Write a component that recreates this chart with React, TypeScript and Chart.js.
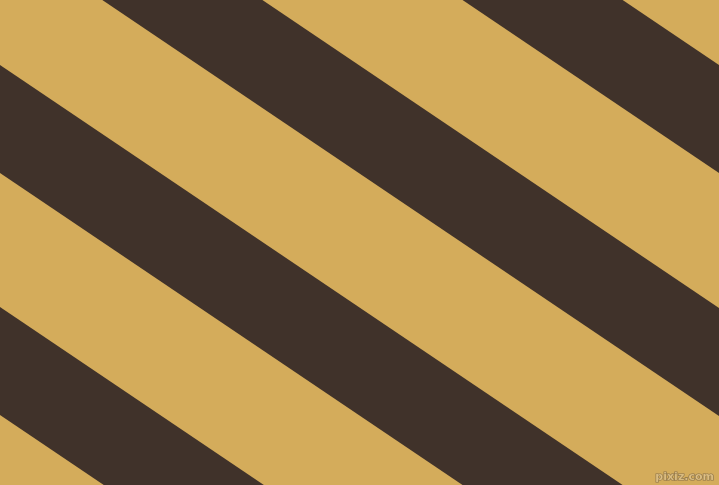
import React, { useEffect, useRef } from "react";
import { Chart, registerables } from "chart.js";

Chart.register(...registerables);

// Stripe edges (y in pixels from the top, at x = 0 and x = 719)
const edgeX = [0, 719];
const stripeNames = ["A", "B", "C", "D"];
const upperEdgeLeft = [-420, -177, 65, 307];
const upperEdgeRight = [65, 308, 550, 792];
const lowerEdgeLeft = [-312, -69, 173, 415];
const lowerEdgeRight = [173, 416, 658, 900];

const GOLD = "#D4AC5B";
const DARK = "#40322A";
const WATERMARK = "pixiz.com";

const backgroundPlugin = {
  id: "stripeBackground",
  beforeDraw(chart: any) {
    const { ctx, width, height } = chart;
    ctx.save();
    ctx.fillStyle = GOLD;
    ctx.fillRect(0, 0, width, height);
    ctx.restore();
  },
  afterDraw(chart: any) {
    const { ctx, width, height } = chart;
    ctx.save();
    ctx.font = "bold 11px 'DejaVu Sans', sans-serif";
    ctx.textAlign = "right";
    ctx.textBaseline = "alphabetic";
    ctx.lineWidth = 1.2;
    ctx.strokeStyle = "rgba(120, 100, 70, 0.8)";
    ctx.fillStyle = "rgba(230, 200, 140, 0.8)";
    ctx.strokeText(WATERMARK, width - 5, height - 5);
    ctx.fillText(WATERMARK, width - 5, height - 5);
    ctx.restore();
  },
};

export default function App() {
  const ref = useRef<HTMLCanvasElement | null>(null);

  useEffect(() => {
    if (!ref.current) return;
    const datasets: any[] = [];
    stripeNames.forEach((name, i) => {
      datasets.push({
        label: name + " upper",
        data: [
          { x: edgeX[0], y: upperEdgeLeft[i] },
          { x: edgeX[1], y: upperEdgeRight[i] },
        ],
        borderWidth: 0,
        borderColor: DARK,
        pointRadius: 0,
        fill: false,
      });
      datasets.push({
        label: name + " lower",
        data: [
          { x: edgeX[0], y: lowerEdgeLeft[i] },
          { x: edgeX[1], y: lowerEdgeRight[i] },
        ],
        borderWidth: 0,
        borderColor: DARK,
        backgroundColor: DARK,
        pointRadius: 0,
        fill: "-1",
      });
    });

    const chart = new Chart(ref.current, {
      type: "line",
      data: { datasets },
      options: {
        animation: false,
        responsive: false,
        maintainAspectRatio: false,
        layout: { padding: 0 },
        plugins: {
          legend: { display: false },
          tooltip: { enabled: false },
          title: { display: false },
        },
        scales: {
          x: { type: "linear", min: 0, max: 719, display: false },
          y: { type: "linear", min: 0, max: 485, reverse: true, display: false },
        },
      },
      plugins: [backgroundPlugin],
    });
    return () => chart.destroy();
  }, []);

  return (
    <div style={{ position: "fixed", left: 0, top: 0, width: 719, height: 485 }}>
      <canvas ref={ref} width={719} height={485} style={{ display: "block" }} />
    </div>
  );
}
